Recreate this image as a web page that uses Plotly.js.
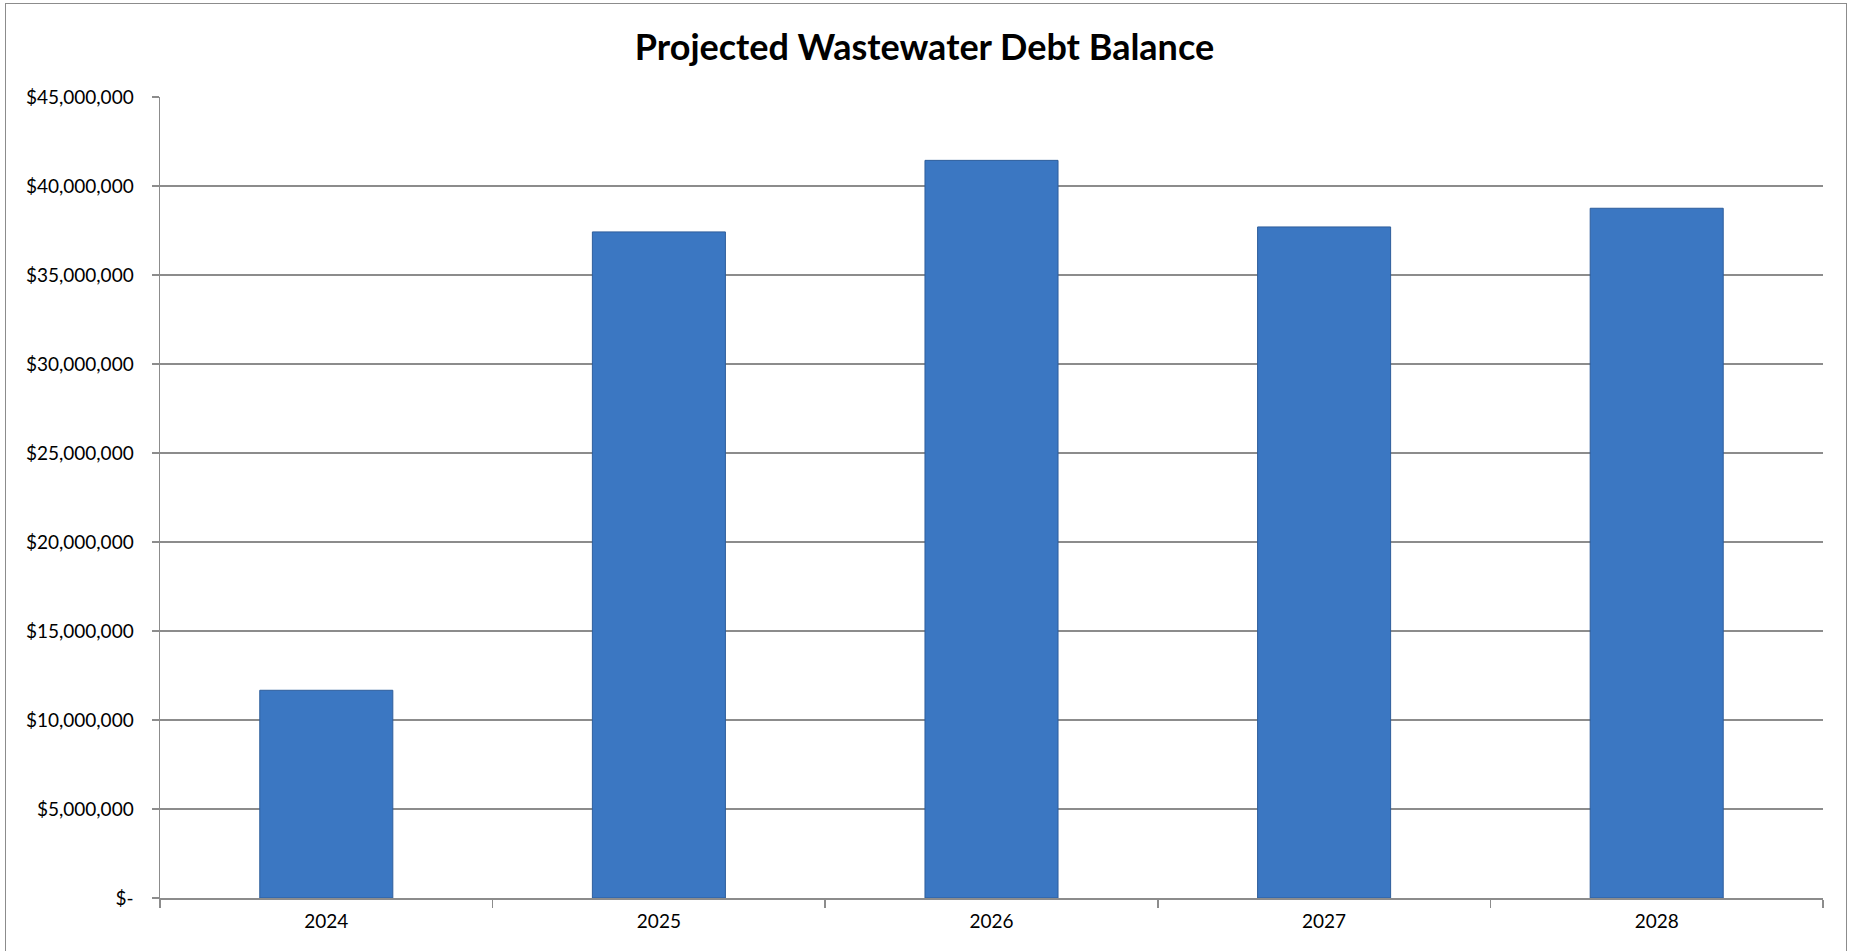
<!DOCTYPE html>
<html>
<head>
<meta charset="utf-8">
<script src="https://cdn.plot.ly/plotly-3.0.1.min.js"></script>
<style>
  html, body { margin: 0; padding: 0; background: #fff; }
  #wrap { position: relative; width: 1849px; height: 951px; overflow: hidden; }
  #chart { position: absolute; left: 0; top: 0; width: 1849px; height: 951px; }
  #frame { position: absolute; left: 5px; top: 3px; width: 1840px; height: 960px;
           border: 1.5px solid #8c8c8c; pointer-events: none; }
</style>
</head>
<body>
<div id="wrap">
  <div id="chart"></div>
  <div id="frame"></div>
</div>
<script>
const years = ['2024', '2025', '2026', '2027', '2028'];
const debtBalance = [11670000, 37420000, 41440000, 37700000, 38750000];
const yTickVals = [0, 5000000, 10000000, 15000000, 20000000, 25000000, 30000000, 35000000, 40000000, 45000000];
const yTickText = ['$-', '$5,000,000', '$10,000,000', '$15,000,000', '$20,000,000', '$25,000,000',
                   '$30,000,000', '$35,000,000', '$40,000,000', '$45,000,000'];

const trace = {
  type: 'bar',
  x: years,
  y: debtBalance,
  marker: { color: '#3b77c2', line: { color: '#2e5e9c', width: 1 } },
  hoverinfo: 'x+y'
};

const layout = {
  width: 1849, height: 951,
  paper_bgcolor: '#ffffff', plot_bgcolor: '#ffffff',
  margin: { l: 160, r: 26, t: 97, b: 53, pad: 0 },
  bargap: 0.6,
  showlegend: false,
  font: { family: 'Lato, "DejaVu Sans", sans-serif', size: 19, color: '#000000' },
  title: {
    text: 'Projected Wastewater Debt Balance',
    font: { family: 'Lato, sans-serif', size: 36, color: '#000000', weight: 'bold' },
    x: 0.5, xanchor: 'center', xref: 'container',
    y: 1 - 47 / 951, yref: 'container', yanchor: 'middle'
  },
  xaxis: {
    type: 'category',
    tickson: 'boundaries',
    ticks: 'outside', ticklen: 8, tickwidth: 1.5, tickcolor: '#8c8c8c',
    showline: true, linecolor: '#8c8c8c', linewidth: 1.5,
    showgrid: false, zeroline: false,
    ticklabelstandoff: 6,
    tickfont: { size: 19, color: '#000000' }
  },
  yaxis: {
    range: [0, 45000000],
    tickvals: yTickVals, ticktext: yTickText,
    ticks: 'outside', ticklen: 7, tickwidth: 1.5, tickcolor: '#8c8c8c',
    showline: true, linecolor: '#8c8c8c', linewidth: 1.5,
    showgrid: true, gridcolor: '#8c8c8c', gridwidth: 1.3,
    zeroline: false,
    ticklabelstandoff: 14,
    tickfont: { size: 19, color: '#000000' }
  }
};

Plotly.newPlot('chart', [trace], layout, { displayModeBar: false, staticPlot: true });
</script>
</body>
</html>
